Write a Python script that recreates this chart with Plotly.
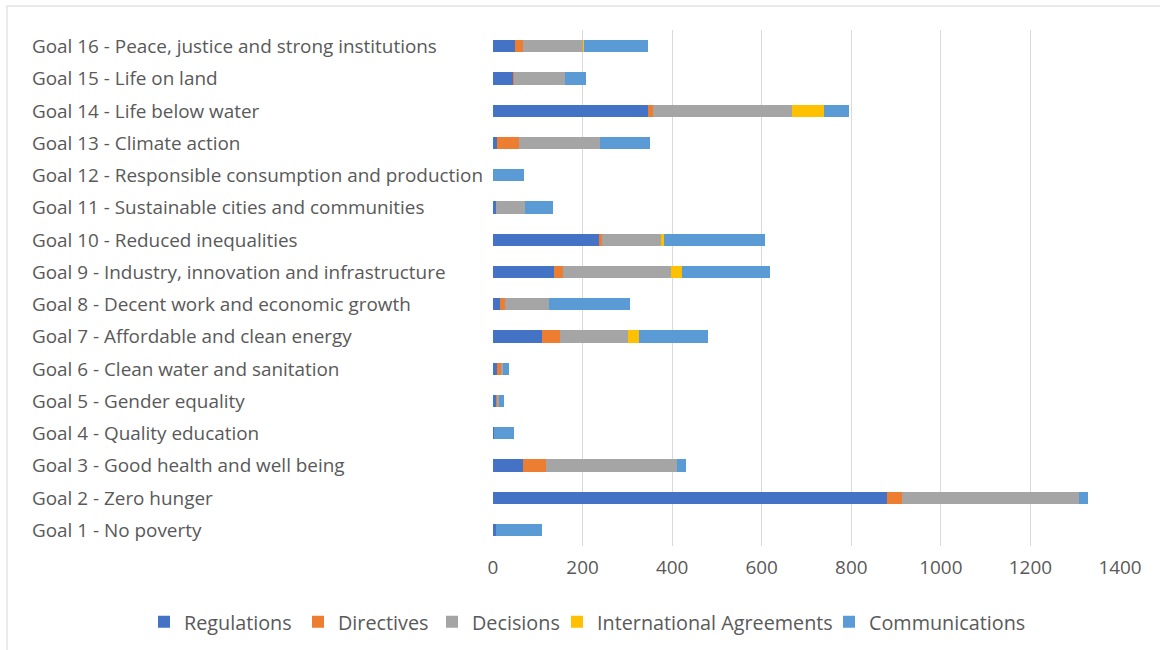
import plotly.graph_objects as go

goals = [
    "Goal 1 - No poverty",
    "Goal 2 - Zero hunger",
    "Goal 3 - Good health and well being",
    "Goal 4 - Quality education",
    "Goal 5 - Gender equality",
    "Goal 6 - Clean water and sanitation",
    "Goal 7 - Affordable and clean energy",
    "Goal 8 - Decent work and economic growth",
    "Goal 9 - Industry, innovation and infrastructure",
    "Goal 10 - Reduced inequalities",
    "Goal 11 - Sustainable cities and communities",
    "Goal 12 - Responsible consumption and production",
    "Goal 13 - Climate action",
    "Goal 14 - Life below water",
    "Goal 15 - Life on land",
    "Goal 16 - Peace, justice and strong institutions",
]

regulations = [6, 880, 66, 2, 7, 8, 110, 16, 136, 237, 6, 0, 10, 347, 45, 49]
directives = [0, 33, 52, 0, 1, 9, 40, 11, 21, 7, 0, 0, 47, 10, 2, 19]
decisions = [0, 396, 292, 0, 5, 6, 151, 99, 240, 133, 66, 0, 182, 310, 114, 134]
international = [0, 0, 0, 0, 0, 0, 24, 0, 25, 4, 0, 0, 0, 73, 0, 2]
communications = [103, 19, 21, 45, 12, 13, 155, 180, 197, 227, 61, 70, 112, 56, 47, 143]

series_names = ["Regulations", "Directives", "Decisions",
                "International Agreements", "Communications"]
series_values = [regulations, directives, decisions, international, communications]
series_colors = ["#4472C4", "#ED7D31", "#A5A5A5", "#FFC000", "#5B9BD5"]

x_ticks = [0, 200, 400, 600, 800, 1000, 1200, 1400]

FONT = "Open Sans, Noto Sans, sans-serif"
FS = 18.9
FS_LEG = 19.8
TXT = "#595959"

W, H = 1160, 650
ml, mr, mt, mb = 493, 40, 30, 104
pw, ph = W - ml - mr, H - mt - mb

# legend symbol x positions (page px) for each entry
legend_px = [164, 318, 452, 577, 849]

fig = go.Figure()
legend_layouts = {}
for i, (name, vals, color) in enumerate(zip(series_names, series_values, series_colors)):
    lname = "legend" if i == 0 else f"legend{i + 1}"
    fig.add_trace(go.Bar(
        y=goals, x=vals, name=name, orientation="h",
        marker=dict(color=color, line=dict(width=0)),
        legend=lname,
    ))
    legend_layouts[lname] = dict(
        xref="container", yref="container",
        x=(legend_px[i] - 20) / W, xanchor="left",
        y=1 - 622 / H, yanchor="middle",
        orientation="h", itemwidth=30,
        bgcolor="rgba(0,0,0,0)",
        font=dict(family=FONT, size=FS_LEG, color=TXT),
    )

for g in goals:
    fig.add_annotation(
        x=(30 - ml) / pw, xref="paper", y=g, yref="y",
        text=g, showarrow=False, xanchor="left", yanchor="middle",
        font=dict(family=FONT, size=FS, color=TXT),
    )

# light outer frame (only left and top edges fall inside the picture)
fig.add_shape(type="rect", xref="paper", yref="paper",
              x0=(7 - ml) / pw, x1=(1220 - ml) / pw,
              y0=(H - 720 - mb) / ph, y1=(H - 6 - mb) / ph,
              line=dict(color="#e3e3e3", width=1.5), layer="below")

fig.update_layout(
    width=W, height=H,
    margin=dict(l=ml, r=mr, t=mt, b=mb, autoexpand=False),
    barmode="stack", bargap=0.62,
    plot_bgcolor="white", paper_bgcolor="white",
    font=dict(family=FONT, size=FS, color=TXT),
    showlegend=True,
    xaxis=dict(range=[0, 1400], tickvals=x_ticks, showgrid=True, gridcolor="#d9d9d9",
               gridwidth=1, zeroline=False, showline=False, ticks="",
               ticklabelstandoff=8,
               tickfont=dict(family=FONT, size=FS, color=TXT)),
    yaxis=dict(showticklabels=False, showgrid=False, zeroline=False, showline=False,
               ticks="", categoryorder="array", categoryarray=goals),
    **legend_layouts,
)

fig.write_html("out.html", config={"displayModeBar": False},
               post_script="document.body.style.margin='0';")
